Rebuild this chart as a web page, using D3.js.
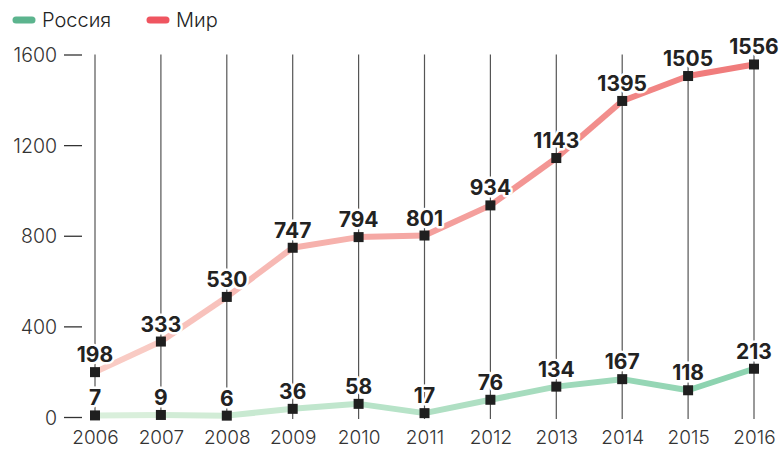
<!DOCTYPE html>
<html><head><meta charset="utf-8">
<script src="https://cdn.jsdelivr.net/npm/d3@7/dist/d3.min.js"></script>
<style>
body{margin:0;background:#fff;}
svg{display:block;font-family:Inter,"Noto Sans",sans-serif;}
</style></head>
<body><svg id="c" width="781" height="449"></svg>
<script>
const years = [2006,2007,2008,2009,2010,2011,2012,2013,2014,2015,2016];
const russia = [7,9,6,36,58,17,76,134,167,118,213];
const world = [198,333,530,747,794,801,934,1143,1395,1505,1556];
const yTicks = [0,400,800,1200,1600];
const seriesNames = ["Россия","Мир"];

const svg = d3.select("#c");
const x = d3.scalePoint().domain(years).range([95,754]);
const y = d3.scaleLinear().domain([0,1600]).range([417,54.5]);

// vertical grid lines
svg.append("g").selectAll("line").data(years).join("line")
  .attr("x1",d=>x(d)).attr("x2",d=>x(d))
  .attr("y1",y(1600)).attr("y2",y(0)+2)
  .attr("stroke","#555").attr("stroke-width",1.2);

// y axis
const yAxis = d3.axisLeft(y).tickValues(yTicks).tickSize(0).tickPadding(0).tickFormat(d=>d);
const ga = svg.append("g").attr("transform","translate(57,0)").call(yAxis);
ga.select(".domain").remove();
ga.selectAll("text").attr("font-size",19.5).attr("font-weight",300).attr("fill","#333")
  .attr("font-family","Inter,sans-serif").attr("dy","0.36em");
ga.selectAll(".tick").append("line").attr("x1",7).attr("x2",25).attr("y1",0).attr("y2",0)
  .attr("stroke","#333").attr("stroke-width",1.3);

// x axis
const xAxis = d3.axisBottom(x).tickSize(0).tickPadding(0);
const gx = svg.append("g").attr("transform","translate(0,444)").call(xAxis);
gx.select(".domain").remove();
gx.selectAll("text").attr("font-size",19).attr("font-weight",300).attr("fill","#333")
  .attr("font-family","Inter,sans-serif").attr("y",0).attr("dy","0");

function drawSeries(vals, c0, c1){
  const col = d3.interpolateRgb(c0,c1);
  const segs = d3.pairs(vals.map((v,i)=>[years[i],v]));
  svg.append("g").selectAll("line").data(segs).join("line")
    .attr("x1",d=>x(d[0][0])).attr("y1",d=>y(d[0][1]))
    .attr("x2",d=>x(d[1][0])).attr("y2",d=>y(d[1][1]))
    .attr("stroke",(d,i)=>col(i/(segs.length-1)))
    .attr("stroke-width",6);
}
drawSeries(russia,"#d9efdb","#8dd3b0");
drawSeries(world,"#f9cbc4","#f07c7c");

function drawMarkers(vals){
  svg.append("g").selectAll("rect").data(vals).join("rect")
    .attr("x",(d,i)=>x(years[i])-5).attr("y",d=>y(d)-5)
    .attr("width",10).attr("height",10).attr("fill","#1f1f1f");
}
function drawLabels(vals){
  svg.append("g").selectAll("text").data(vals).join("text")
    .attr("x",(d,i)=>x(years[i])).attr("y",d=>y(d)-10)
    .attr("text-anchor","middle").attr("font-size",21).attr("font-weight",700)
    .attr("fill","#222").attr("stroke","#fff").attr("stroke-width",5)
    .attr("stroke-linejoin","round").attr("paint-order","stroke")
    .text(d=>d);
}
drawMarkers(russia); drawMarkers(world);
drawLabels(russia); drawLabels(world);

// legend
const legend = svg.append("g");
const lg = [{name:seriesNames[0],color:"#5cb48e",x:13},{name:seriesNames[1],color:"#ef5560",x:147}];
lg.forEach(l=>{
  legend.append("line").attr("x1",l.x+3).attr("x2",l.x+19).attr("y1",20).attr("y2",20)
    .attr("stroke",l.color).attr("stroke-width",7).attr("stroke-linecap","round");
  legend.append("text").attr("x",l.x+29).attr("y",27).attr("font-size",20).attr("font-weight",300)
    .attr("fill","#222").text(l.name);
});
</script></body></html>
